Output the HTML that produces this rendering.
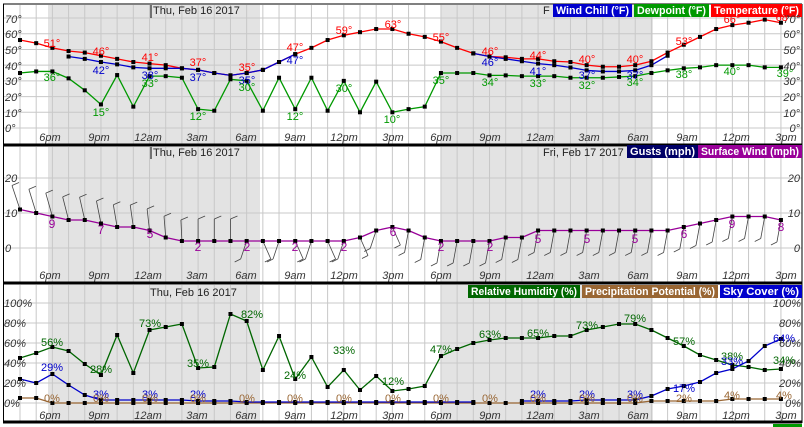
<!DOCTYPE html>
<html><head><meta charset="utf-8"><style>
html,body{margin:0;padding:0;background:#fff;}
svg{display:block;font-family:"Liberation Sans",sans-serif;}
.ax{font-size:11px;font-style:italic;fill:#333;}
.lb{font-size:11px;text-anchor:middle;}
.lg{font-size:11px;font-weight:bold;fill:#fff;}
.tt{font-size:11px;fill:#222;}
</style></head><body>
<svg id="s" width="804" height="427" xmlns="http://www.w3.org/2000/svg">
<rect width="804" height="427" fill="#fff"/>
<g id="bg"></g>
<g id="grid"></g>
<g id="data"></g>
<g stroke="#000" fill="none">
<line x1="3" y1="4" x2="802" y2="4" stroke-width="1"/>
<line x1="3" y1="145" x2="802" y2="145" stroke-width="3"/>
<line x1="3" y1="283" x2="802" y2="283" stroke-width="3"/>
<line x1="3" y1="422" x2="802" y2="422" stroke-width="3"/>
<line x1="3.5" y1="4" x2="3.5" y2="423" stroke-width="1"/>
<line x1="802" y1="4" x2="802" y2="423" stroke-width="1"/>
</g>
<line x1="151" y1="5" x2="151" y2="18" stroke="#000"/>
<text class="tt" x="153" y="14">Thu, Feb 16 2017</text>
<line x1="151" y1="147" x2="151" y2="159" stroke="#000"/>
<text class="tt" x="153" y="156">Thu, Feb 16 2017</text>
<text class="tt" x="543" y="156">Fri, Feb 17 2017</text>
<text class="tt" x="150" y="296">Thu, Feb 16 2017</text>
<text class="tt" x="543" y="14">F</text>
<rect x="553" y="4" width="79" height="13" fill="#0000cc"/><text class="lg" x="556" y="14" textLength="73" lengthAdjust="spacingAndGlyphs">Wind Chill (°F)</text>
<rect x="634" y="4" width="75" height="13" fill="#009900"/><text class="lg" x="637" y="14" textLength="69" lengthAdjust="spacingAndGlyphs">Dewpoint (°F)</text>
<rect x="711" y="4" width="91" height="13" fill="#ff0000"/><text class="lg" x="714" y="14" textLength="85" lengthAdjust="spacingAndGlyphs">Temperature (°F)</text>
<rect x="627" y="145" width="71" height="13" fill="#000066"/><text class="lg" x="630" y="155" textLength="65" lengthAdjust="spacingAndGlyphs">Gusts (mph)</text>
<rect x="698" y="145" width="104" height="13" fill="#990099"/><text class="lg" x="701" y="155" textLength="98" lengthAdjust="spacingAndGlyphs">Surface Wind (mph)</text>
<rect x="468" y="285" width="112" height="13" fill="#006600"/><text class="lg" x="471" y="295" textLength="106" lengthAdjust="spacingAndGlyphs">Relative Humidity (%)</text>
<rect x="582" y="285" width="136" height="13" fill="#996633"/><text class="lg" x="585" y="295" textLength="130" lengthAdjust="spacingAndGlyphs">Precipitation Potential (%)</text>
<rect x="720" y="285" width="82" height="13" fill="#0000cc"/><text class="lg" x="723" y="295" textLength="76" lengthAdjust="spacingAndGlyphs">Sky Cover (%)</text>
<rect x="773" y="424" width="29" height="3" fill="#009900"/>
<g class="ax">
<text x="5" y="23">70°</text><text x="5" y="38">60°</text><text x="5" y="54">50°</text><text x="5" y="70">40°</text><text x="5" y="85">30°</text><text x="5" y="101">20°</text><text x="5" y="117">10°</text><text x="5" y="132">0°</text>
<g text-anchor="end"><text x="800" y="23">70°</text><text x="800" y="38">60°</text><text x="800" y="54">50°</text><text x="800" y="70">40°</text><text x="800" y="85">30°</text><text x="800" y="101">20°</text><text x="800" y="117">10°</text><text x="800" y="132">0°</text>
<text x="800" y="182">20</text><text x="800" y="217">10</text><text x="800" y="252">0</text>
<text x="801" y="307">100%</text><text x="801" y="327">80%</text><text x="801" y="347">60%</text><text x="801" y="367">40%</text><text x="801" y="387">20%</text><text x="801" y="407">0%</text></g>
<text x="5" y="182">20</text><text x="5" y="217">10</text><text x="5" y="252">0</text>
<text x="4" y="307">100%</text><text x="4" y="327">80%</text><text x="4" y="347">60%</text><text x="4" y="367">40%</text><text x="4" y="387">20%</text><text x="4" y="407">0%</text>
</g>
<g class="ax" text-anchor="middle">
<text x="50" y="141">6pm</text><text x="99" y="141">9pm</text><text x="148" y="141">12am</text><text x="197" y="141">3am</text><text x="246" y="141">6am</text><text x="295" y="141">9am</text><text x="344" y="141">12pm</text><text x="393" y="141">3pm</text><text x="441" y="141">6pm</text><text x="490" y="141">9pm</text><text x="540" y="141">12am</text><text x="589" y="141">3am</text><text x="638" y="141">6am</text><text x="687" y="141">9am</text><text x="736" y="141">12pm</text><text x="786" y="141">3pm</text>
<text x="50" y="279">6pm</text><text x="99" y="279">9pm</text><text x="148" y="279">12am</text><text x="197" y="279">3am</text><text x="246" y="279">6am</text><text x="295" y="279">9am</text><text x="344" y="279">12pm</text><text x="393" y="279">3pm</text><text x="441" y="279">6pm</text><text x="490" y="279">9pm</text><text x="540" y="279">12am</text><text x="589" y="279">3am</text><text x="638" y="279">6am</text><text x="687" y="279">9am</text><text x="736" y="279">12pm</text><text x="786" y="279">3pm</text>
<text x="50" y="419">6pm</text><text x="99" y="419">9pm</text><text x="148" y="419">12am</text><text x="197" y="419">3am</text><text x="246" y="419">6am</text><text x="295" y="419">9am</text><text x="344" y="419">12pm</text><text x="393" y="419">3pm</text><text x="441" y="419">6pm</text><text x="490" y="419">9pm</text><text x="540" y="419">12am</text><text x="589" y="419">3am</text><text x="638" y="419">6am</text><text x="687" y="419">9am</text><text x="736" y="419">12pm</text><text x="786" y="419">3pm</text>
</g>
<g id="labels" class="lb">
<g fill="#ff0000">
<text x="52" y="47">51°</text><text x="101" y="55">46°</text><text x="150" y="61">41°</text><text x="198" y="66">37°</text><text x="247" y="71">35°</text><text x="295" y="51">47°</text><text x="344" y="34">59°</text><text x="393" y="28">63°</text><text x="441" y="41">55°</text><text x="490" y="55">46°</text><text x="538" y="59">44°</text><text x="587" y="63">40°</text><text x="635" y="63">40°</text><text x="684" y="45">53°</text><text x="732" y="23">66°</text><text x="784" y="21">68°</text>
</g>
<g fill="#0000cc">
<text x="101" y="74">42°</text><text x="150" y="79">38°</text><text x="198" y="81">37°</text><text x="247" y="84">35°</text><text x="295" y="64">47°</text><text x="490" y="66">46°</text><text x="538" y="75">41°</text><text x="587" y="79">37°</text><text x="635" y="79">37°</text>
</g>
<g fill="#009900">
<text x="52" y="81">36°</text><text x="101" y="116">15°</text><text x="150" y="87">33°</text><text x="198" y="120">12°</text><text x="247" y="91">30°</text><text x="295" y="120">12°</text><text x="344" y="92">30°</text><text x="392" y="123">10°</text><text x="441" y="84">35°</text><text x="490" y="86">34°</text><text x="538" y="87">33°</text><text x="587" y="89">32°</text><text x="635" y="86">34°</text><text x="684" y="78">38°</text><text x="732" y="75">40°</text><text x="785" y="77">39°</text>
</g>
<g fill="#990099" font-size="12">
<text x="52" y="228">9</text><text x="101" y="234">7</text><text x="150" y="238">5</text><text x="198" y="251">2</text><text x="247" y="251">2</text><text x="295" y="251">2</text><text x="344" y="251">2</text><text x="393" y="236">6</text><text x="441" y="251">2</text><text x="490" y="251">2</text><text x="538" y="243">5</text><text x="587" y="243">5</text><text x="635" y="243">5</text><text x="684" y="238">6</text><text x="732" y="228">9</text><text x="781" y="231">8</text>
</g>
<g fill="#006600">
<text x="52" y="346">56%</text><text x="101" y="373">28%</text><text x="150" y="327">73%</text><text x="198" y="367">35%</text><text x="252" y="318">82%</text><text x="295" y="379">24%</text><text x="344" y="354">33%</text><text x="393" y="385">12%</text><text x="441" y="353">47%</text><text x="490" y="338">63%</text><text x="538" y="337">65%</text><text x="587" y="329">73%</text><text x="635" y="322">79%</text><text x="684" y="345">57%</text><text x="732" y="360">38%</text><text x="784" y="364">34%</text>
</g>
<g fill="#0000cc">
<text x="52" y="371">29%</text><text x="101" y="398">3%</text><text x="150" y="398">3%</text><text x="198" y="398">2%</text><text x="538" y="398">2%</text><text x="587" y="398">2%</text><text x="635" y="398">3%</text><text x="684" y="392">17%</text><text x="732" y="365">33%</text><text x="784" y="342">64%</text>
</g>
<g fill="#996633">
<text x="52" y="402">0%</text><text x="101" y="402">0%</text><text x="150" y="402">0%</text><text x="198" y="402">0%</text><text x="247" y="402">0%</text><text x="295" y="402">0%</text><text x="344" y="402">0%</text><text x="393" y="402">0%</text><text x="441" y="402">0%</text><text x="490" y="402">0%</text><text x="538" y="402">0%</text><text x="587" y="402">0%</text><text x="635" y="402">0%</text><text x="684" y="402">2%</text><text x="732" y="399">4%</text><text x="784" y="399">4%</text>
</g>
</g>
</svg>
<script>
const NS="http://www.w3.org/2000/svg";
function el(p,t,a){const e=document.createElementNS(NS,t);for(const k in a)e.setAttribute(k,a[k]);p.appendChild(e);return e;}
const X=i=>20+16.19*i;
const bg=document.getElementById('bg'),gr=document.getElementById('grid'),dt=document.getElementById('data');
const panels=[[5,144],[147,282],[285,421]];
panels.forEach(([a,b])=>{el(bg,'rect',{x:48,y:a,width:212,height:b-a,fill:'#e3e3e3'});el(bg,'rect',{x:441,y:a,width:212,height:b-a,fill:'#e3e3e3'});});
for(let i=0;i<48;i++){panels.forEach(([a,b])=>el(gr,'line',{x1:X(i),y1:a,x2:X(i),y2:b,stroke:'#c8c8c8','stroke-width':1}));}
for(let v=0;v<=70;v+=10){const y=128-1.571*v;el(gr,'line',{x1:4,y1:y,x2:802,y2:y,stroke:'#c8c8c8'});}
[0,10,20].forEach(v=>{const y=248-3.5*v;el(gr,'line',{x1:4,y1:y,x2:802,y2:y,stroke:'#c8c8c8'});});
for(let v=0;v<=100;v+=20){const y=403-v;el(gr,'line',{x1:4,y1:y,x2:802,y2:y,stroke:'#c8c8c8'});}
function series(vals,start,fy,col){const pts=[];vals.forEach((v,k)=>{if(v!==null)pts.push([X(start+k),fy(v)]);});
 el(dt,'polyline',{points:pts.map(p=>p.join(',')).join(' '),fill:'none',stroke:col,'stroke-width':1.3});
 pts.forEach(p=>el(dt,'rect',{x:p[0]-2,y:p[1]-2,width:4,height:4,fill:'#000'}));}
const fT=v=>128-1.571*v, fW=v=>248-3.5*v, fP=v=>403-v;
const dew=[35,36,36,31.6,24,15,33.7,13.6,33,33,32,12,11,31,30,11,32,12,32,11,30,10,29.5,10,12,13.6,35,35,35,33.5,33.5,33,33,33,32,32,32,32.5,33,35,36.7,38,38.6,40,40,40,38.6,38.6];
const temp=[56,54,51,49,48,46,44,42,41,40,38,37,35,33.5,35,37,42,47,51,56,59,61,63,63,60,58,55,51,47.5,45.5,45,44,44,42.5,42,40,39,39,40,42.5,48,53,58,63,65.5,67,69,67];
const wc1=[45.5,44,42,40.5,38.6,38,38,38,37,35,33.5,35,37,42,47];
const wc2=[47.5,45.5,44,42.5,41,40,38.5,36.7,36,36,36.7,40,46];
series(dew,0,fT,'#009900');series(temp,0,fT,'#ff0000');series(wc1,3,fT,'#0000cc');series(wc2,28,fT,'#0000cc');
const wind=[11,10,9,8,8,7,6,6,5,3,2,2,2,2,2,2,2,2,2,2,2,3,5,6,5,3,2,2,2,2,3,3,5,5,5,5,5,5,5,5,5,6,7,8,9,9,9,8];
wind.forEach((v,i)=>{const x=X(i),y=fW(v);let dx,dy;
 if(i<11){dx=-8+i*0.7;dy=-24+ i*0.3;}else if(i<14){dx=0;dy=-22;}else if(i<24){dx=(i%2?8:-6);dy=18;}else{dx=-4;dy=22;}
 const x2=x+dx,y2=y+dy;el(dt,'line',{x1:x,y1:y,x2:x2,y2:y2,stroke:'#444','stroke-width':0.8});
 const tx=i<14?7:6,ty=i<14?-3:3;el(dt,'line',{x1:x2,y1:y2,x2:x2+(i<14?tx:-tx),y2:y2+ty,stroke:'#444','stroke-width':0.8});});
series(wind,0,fW,'#990099');
const rh=[45,50,56,52,39,28,68,30,73,76,79,35,36,89,82,33,67,24,46,16,33,13,27,12,14,17,47,54,60,63,65,65,65,67,67,73,76,79,79,73,65,57,48,43,38,36,33,34];
const pp=[5,5,0,0,0,0,0,0,0,0,0,0,0,0,0,0,0,0,0,0,0,0,0,0,0,0,0,0,0,0,0,0,0,0,0,0,0,0,0,2,2,2,2,2,4,4,4,4];
const sky1=[24,20,29,18,8,3,3,3,3,3,3,2,2,2,1,1,1,1,1,1,1,1,1,1,1,1,1,1,1];
const sky2=[2,2,2,2,3,3,3,3,7,14,17,21,30,34,42,57,64];
series(pp,0,fP,'#996633');series(rh,0,fP,'#006600');series(sky1,0,fP,'#0000cc');series(sky2,31,fP,'#0000cc');
</script>
</body></html>
